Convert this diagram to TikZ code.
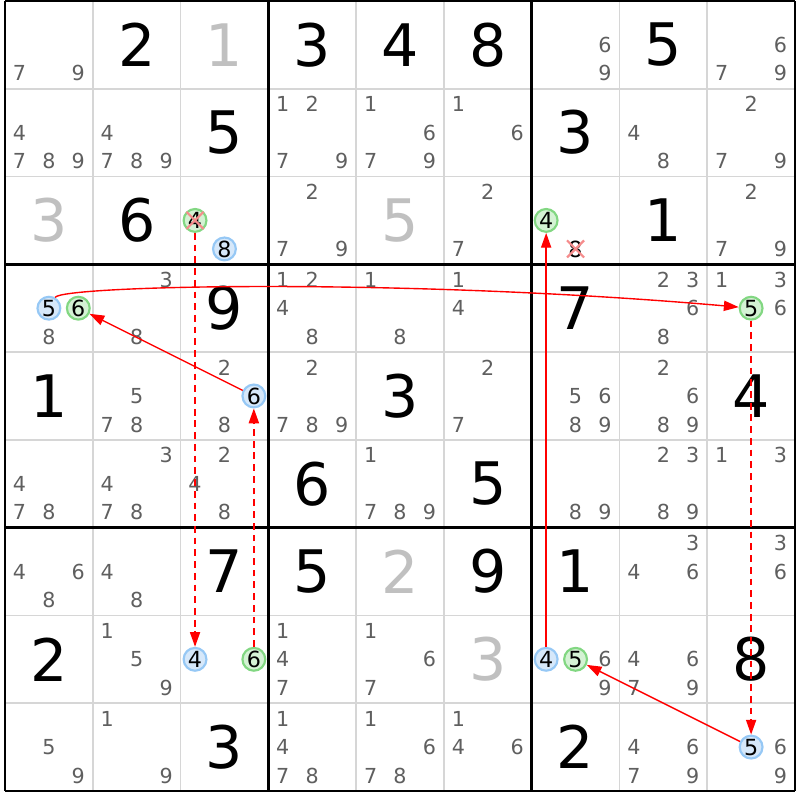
\documentclass[tikz,border=0pt]{standalone}
\usepackage{fontspec}
\setmainfont{DejaVu Sans}
\usetikzlibrary{arrows.meta,shapes.misc}
\definecolor{candgray}{RGB}{95,95,95}
\definecolor{givengray}{RGB}{192,192,192}
\definecolor{gridgray}{RGB}{214,214,214}
\definecolor{bluefill}{RGB}{214,232,250}
\definecolor{bluering}{RGB}{150,200,245}
\definecolor{greenfill}{RGB}{212,242,212}
\definecolor{greenring}{RGB}{130,215,130}
\definecolor{crossred}{RGB}{245,140,140}

\begin{document}
\begin{tikzpicture}[
        cand/.style={text=candgray, font=\fontsize{6.7}{7}\selectfont, inner sep=0pt},
        given/.style={font=\fontsize{19}{20}\selectfont, inner sep=0pt},
        plainc/.style={minimum size=0.26cm, inner sep=0pt, font=\fontsize{7.2}{8}\selectfont},
        bluec/.style={plainc, circle, draw=bluering, fill=bluefill, line width=0.7pt},
        greenc/.style={plainc, circle, draw=greenring, fill=greenfill, line width=0.7pt},
        strike/.style={cross out, draw=crossred, line width=0.7pt, minimum size=0.17cm, inner sep=0pt},
        link/.style={draw=red, line width=0.45pt, -{Triangle[length=4.8pt,width=3.3pt]}},
        weaklink/.style={link, dash pattern=on 2.2pt off 1.6pt}]
        \useasboundingbox (-0.057, 0.011) rectangle (9.057, -9.103);
        \foreach \i in {1,2,4,5,7,8} {
            \draw [gridgray, line width=0.55pt] (\i, 0) -- (\i, -9);
            \draw [gridgray, line width=0.55pt] (0, -\i) -- (9, -\i);
        }
        \foreach \r/\c/\v in {1/2/2, 1/4/3, 1/5/4, 1/6/8, 1/8/5, 2/3/5, 2/7/3, 3/2/6, 3/8/1,
                4/3/9, 4/7/7, 5/1/1, 5/5/3, 5/9/4, 6/4/6, 6/6/5, 7/3/7, 7/4/5, 7/6/9,
                7/7/1, 8/1/2, 8/9/8, 9/3/3, 9/7/2}
            \node [given] at (\c-0.5, 0.5-\r) {\v};
        \foreach \r/\c/\v in {1/3/1, 3/1/3, 3/5/5, 7/5/2, 8/6/3}
            \node [given, text=givengray] at (\c-0.5, 0.5-\r) {\v};
        \foreach \r/\c/\ds in {1/1/{7,9}, 1/7/{6,9}, 1/9/{6,7,9},
                2/1/{4,7,8,9}, 2/2/{4,7,8,9}, 2/4/{1,2,7,9}, 2/5/{1,6,7,9}, 2/6/{1,6}, 2/8/{4,8}, 2/9/{2,7,9},
                3/4/{2,7,9}, 3/6/{2,7}, 3/9/{2,7,9},
                4/1/{8}, 4/2/{3,8}, 4/4/{1,2,4,8}, 4/5/{1,8}, 4/6/{1,4}, 4/8/{2,3,6,8}, 4/9/{1,3,6},
                5/2/{5,7,8}, 5/3/{2,8}, 5/4/{2,7,8,9}, 5/6/{2,7}, 5/7/{5,6,8,9}, 5/8/{2,6,8,9},
                6/1/{4,7,8}, 6/2/{3,4,7,8}, 6/3/{2,4,8}, 6/5/{1,7,8,9}, 6/7/{8,9}, 6/8/{2,3,8,9}, 6/9/{1,3},
                7/1/{4,6,8}, 7/2/{4,8}, 7/8/{3,4,6}, 7/9/{3,6},
                8/2/{1,5,9}, 8/4/{1,4,7}, 8/5/{1,6,7}, 8/7/{6,9}, 8/8/{4,6,7,9},
                9/1/{5,9}, 9/2/{1,9}, 9/4/{1,4,7,8}, 9/5/{1,6,7,8}, 9/6/{1,4,6}, 9/8/{4,6,7,9}, 9/9/{6,9}}
            \foreach \d in \ds {
                \pgfmathsetmacro\px{\c-0.5+(mod(\d-1,3)-1)*0.335}
                \pgfmathsetmacro\py{0.5-\r-(floor((\d-1)/3)-1)*0.325}
                \node [cand] at (\px, \py) {\d};
            }
        \foreach \r/\c/\d/\s in {3/3/4/greenc, 3/3/8/bluec, 3/7/4/greenc, 3/7/8/plainc,
                4/1/5/bluec, 4/1/6/greenc, 4/9/5/greenc, 5/3/6/bluec,
                8/3/4/bluec, 8/3/6/greenc, 8/7/4/bluec, 8/7/5/greenc, 9/9/5/bluec} {
            \pgfmathsetmacro\px{\c-0.5+(mod(\d-1,3)-1)*0.335}
            \pgfmathsetmacro\py{0.5-\r-(floor((\d-1)/3)-1)*0.325}
            \node [\s] (n\r\c\d) at (\px, \py) {\d};
        }
        \node [strike] at (n334) {};
        \node [strike] at (n378) {};
        \foreach \i in {0,3,6,9} {
            \draw [line width=0.9pt] (\i, 0) -- (\i, -9);
            \draw [line width=0.9pt] (0, -\i) -- (9, -\i);
        }
        \draw [weaklink] (n334) -- (n834);
        \draw [weaklink] (n836) -- (n536);
        \draw [link] (n536) -- (n416);
        \draw [link] (n415) .. controls +(60:0.3) and +(175:4) .. (n495);
        \draw [weaklink] (n495) -- (n995);
        \draw [link] (n995) -- (n875);
        \draw [link] (n874) -- (n374);
\end{tikzpicture}
\end{document}
